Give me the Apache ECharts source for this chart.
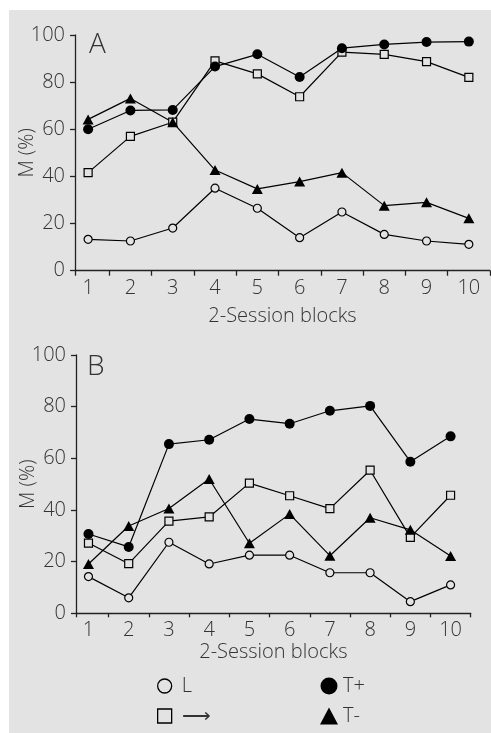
<!DOCTYPE html>
<html>
<head>
<meta charset="utf-8">
<script src="https://cdn.jsdelivr.net/npm/echarts@6/dist/echarts.min.js"></script>
<style>
html,body{margin:0;padding:0;background:#fff;}
#c{width:491px;height:733px;}
</style>
</head>
<body>
<div id="c"></div>
<script>
// ---- data ----
const blocks = [1, 2, 3, 4, 5, 6, 7, 8, 9, 10];
const yTicks = [0, 20, 40, 60, 80, 100];
const xTickMarks = [0.69, 1.5, 2.5, 3.5, 4.5, 5.5, 6.5, 7.5, 8.5, 9.5, 10.5];
const seriesNames = ['L', '⟶', 'T+', 'T-'];

const A_L      = [13.3, 12.6, 18.1, 35.0, 26.5, 14.0, 24.9, 15.4, 12.6, 11.2];
const A_arrow  = [41.6, 57.0, 63.0, 89.0, 83.5, 73.8, 92.7, 91.8, 88.7, 82.0];
const A_Tplus  = [60.0, 68.0, 68.2, 86.6, 91.8, 82.2, 94.4, 96.0, 97.0, 97.2];
const A_Tminus = [64.2, 73.1, 63.0, 42.7, 34.7, 37.8, 41.6, 27.6, 29.0, 22.2];

const B_L      = [14.2, 6.0, 27.5, 19.1, 22.5, 22.5, 15.7, 15.7, 4.5, 11.0];
const B_arrow  = [27.2, 19.2, 35.7, 37.3, 50.4, 45.5, 40.5, 55.4, 29.4, 45.7];
const B_Tplus  = [30.7, 25.7, 65.5, 67.2, 75.2, 73.4, 78.4, 80.3, 58.7, 68.5];
const B_Tminus = [19.1, 33.8, 40.6, 52.0, 27.1, 38.4, 22.3, 37.0, 32.3, 22.2];

// ---- styles ----
const BG = '#e3e3e3';
const FONT = "'Open Sans', 'Liberation Sans', sans-serif";
const TXT = '#333';
const AX = '#222';

const markerStyles = {
  'L':  { symbol: 'circle', symbolSize: 8, itemStyle: { color: BG, borderColor: '#000', borderWidth: 1.2 } },
  '⟶': { symbol: 'rect', symbolSize: 8, itemStyle: { color: BG, borderColor: '#000', borderWidth: 1.2 } },
  'T+': { symbol: 'circle', symbolSize: 10, itemStyle: { color: '#000', borderColor: '#000', borderWidth: 0 } },
  'T-': { symbol: 'triangle', symbolSize: [11, 10], itemStyle: { color: '#000', borderColor: '#000', borderWidth: 0 } }
};

function mkSeries(name, vals, idx) {
  const m = markerStyles[name];
  return {
    name: name,
    type: 'line',
    xAxisIndex: idx,
    yAxisIndex: idx,
    data: blocks.map((b, i) => [b, vals[i]]),
    symbol: m.symbol,
    symbolSize: m.symbolSize,
    showSymbol: true,
    itemStyle: m.itemStyle,
    lineStyle: { color: '#000', width: 1.2 },
    emphasis: { disabled: true },
    animation: false,
    z: 3
  };
}

const labelFont = { fontFamily: FONT, fontSize: 20, color: TXT, fontWeight: 300 };

function mkX(idx, nameGap, labelMargin, tickLen) {
  return {
    type: 'value',
    gridIndex: idx,
    min: 0.69,
    max: 10.5,
    name: '2-Session blocks',
    nameLocation: 'middle',
    nameGap: nameGap,
    nameMoveOverlap: false,
    nameTextStyle: labelFont,
    axisLine: { show: true, onZero: false, lineStyle: { color: AX, width: 1.3 } },
    axisTick: { show: true, customValues: xTickMarks, length: tickLen, lineStyle: { color: AX, width: 1.3 } },
    axisLabel: Object.assign({ show: true, customValues: blocks, margin: labelMargin }, labelFont),
    splitLine: { show: false }
  };
}

function mkY(idx) {
  return {
    type: 'value',
    gridIndex: idx,
    min: 0,
    max: 100,
    interval: 20,
    name: 'M (%)',
    nameLocation: 'middle',
    nameGap: 38,
    nameRotate: 90,
    nameMoveOverlap: false,
    nameTextStyle: labelFont,
    axisLine: { show: true, lineStyle: { color: AX, width: 1.3 } },
    axisTick: { show: true, length: 5, lineStyle: { color: AX, width: 1.3 } },
    axisLabel: Object.assign({ show: true, margin: 10, customValues: yTicks }, labelFont),
    splitLine: { show: false }
  };
}

const chart = echarts.init(document.getElementById('c'), null, { renderer: 'canvas' });

const option = {
  backgroundColor: '#fff',
  animation: false,
  textStyle: { fontFamily: FONT },
  graphic: [
    { type: 'rect', left: 9, top: 10, shape: { width: 482, height: 723 }, style: { fill: BG }, z: -10, silent: true },
    { type: 'text', left: 89, top: 31, style: { text: 'A', fontFamily: FONT, fontSize: 28, fill: TXT, fontWeight: 300 }, z: 5 },
    { type: 'text', left: 87, top: 353, style: { text: 'B', fontFamily: FONT, fontSize: 28, fill: TXT, fontWeight: 300 }, z: 5 }
  ],
  grid: [
    { left: 75, top: 35, width: 415, height: 235.7 },
    { left: 76, top: 355, width: 394.7, height: 258.3 }
  ],
  xAxis: [mkX(0, 36, 8, 5), mkX(1, 29, 7, 4)],
  yAxis: [mkY(0), mkY(1)],
  legend: [
    {
      orient: 'vertical', left: 157, top: 676, padding: 0, itemGap: 10,
      itemWidth: 14, itemHeight: 14,
      selectedMode: false,
      formatter: n => ' ' + n,
      textStyle: { fontFamily: FONT, fontSize: 20, lineHeight: 20, color: TXT, fontWeight: 300 },
      data: [
        { name: 'L', icon: 'circle', itemStyle: { color: BG, borderColor: '#000', borderWidth: 1.3 } },
        { name: '⟶', icon: 'rect', itemStyle: { color: BG, borderColor: '#000', borderWidth: 1.3 } }
      ]
    },
    {
      orient: 'vertical', left: 320, top: 676, padding: 0, itemGap: 10,
      itemWidth: 18, itemHeight: 17,
      selectedMode: false,
      formatter: n => n,
      textStyle: { fontFamily: FONT, fontSize: 20, lineHeight: 20, color: TXT, fontWeight: 300 },
      data: [
        { name: 'T+', icon: 'circle', itemStyle: { color: '#000', borderWidth: 0 } },
        { name: 'T-', icon: 'triangle', itemStyle: { color: '#000', borderWidth: 0 } }
      ]
    }
  ],
  series: [
    mkSeries('L', A_L, 0),
    mkSeries('⟶', A_arrow, 0),
    mkSeries('T+', A_Tplus, 0),
    mkSeries('T-', A_Tminus, 0),
    mkSeries('L', B_L, 1),
    mkSeries('⟶', B_arrow, 1),
    mkSeries('T+', B_Tplus, 1),
    mkSeries('T-', B_Tminus, 1)
  ]
};
chart.setOption(option);
</script>
</body>
</html>
